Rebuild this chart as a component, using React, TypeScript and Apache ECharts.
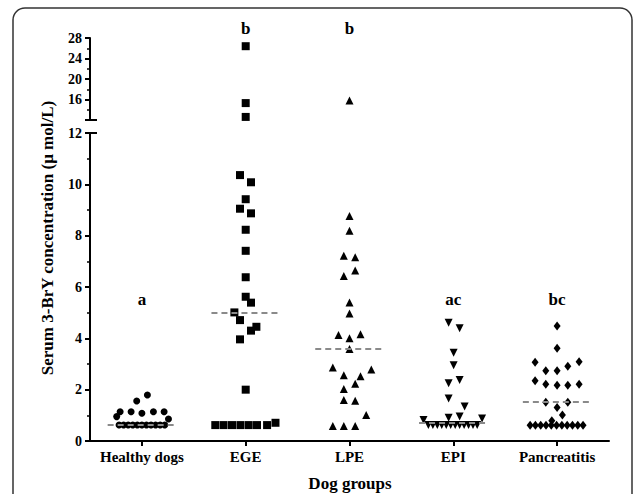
import React, { useEffect, useRef } from "react";
import * as echarts from "echarts";

const categories = ["Healthy dogs", "EGE", "LPE", "EPI", "Pancreatitis"];

// values (µmol/L) and horizontal offsets (in category widths)
const healthyY = [1.79, 1.56, 1.14, 1.14, 1.08, 1.14, 1.14, 0.95, 0.86, 0.62, 0.62, 0.62, 0.62, 0.62, 0.62, 0.62, 0.62, 0.62, 0.62, 0.62];
const healthyX = [0.053, -0.05, -0.21, -0.104, 0, 0.111, 0.214, -0.243, 0.256, -0.22, -0.176, -0.132, -0.088, -0.044, 0, 0.044, 0.088, 0.132, 0.176, 0.22];

const egeY = [26.4, 15.3, 12.6, 10.36, 10.08, 9.42, 9.05, 8.87, 8.23, 7.41, 6.38, 5.62, 5.39, 5.01, 4.71, 4.45, 4.3, 3.96, 2.0, 0.62, 0.62, 0.62, 0.62, 0.62, 0.62, 0.62, 0.71];
const egeX = [0, 0, 0, -0.055, 0.051, 0, -0.055, 0.051, 0, 0, 0, 0, 0.051, -0.109, -0.055, 0.103, 0.051, -0.055, 0, -0.293, -0.213, -0.132, -0.051, 0.029, 0.109, 0.206, 0.287];

const lpeY = [15.8, 8.77, 8.19, 7.22, 7.16, 6.64, 6.43, 5.4, 4.97, 4.13, 4.0, 4.16, 3.58, 2.86, 2.56, 2.52, 2.79, 2.23, 2.03, 1.6, 1.57, 1.01, 0.58, 0.58, 0.58];
const lpeX = [0, 0, 0, -0.055, 0.055, 0.055, -0.055, 0, 0, -0.106, 0, 0.106, 0, -0.161, -0.055, 0.106, 0.21, 0.055, -0.055, -0.055, 0.055, 0.161, -0.161, -0.055, 0.055];

const epiY = [4.61, 4.39, 3.44, 2.95, 2.25, 2.38, 1.66, 1.34, 0.91, 0.95, 0.82, 0.88, 0.62, 0.62, 0.62, 0.62, 0.62, 0.62, 0.62, 0.62, 0.62, 0.62, 0.62, 0.62];
const epiX = [-0.045, 0.061, 0.003, 0.003, -0.045, 0.061, -0.045, 0.109, -0.045, 0.061, -0.287, 0.277, -0.24, -0.197, -0.154, -0.111, -0.068, -0.025, 0.018, 0.061, 0.104, 0.147, 0.19, 0.23];

const pancY = [4.48, 3.61, 3.07, 3.09, 2.74, 2.74, 2.91, 2.35, 2.21, 2.17, 2.17, 2.21, 1.51, 1.51, 1.31, 1.01, 0.79, 0.61, 0.61, 0.61, 0.61, 0.61, 0.61, 0.61, 0.61, 0.61, 0.61, 0.61];
const pancX = [0, 0, -0.212, 0.212, -0.109, 0, 0.103, -0.212, -0.109, 0, 0.103, 0.212, -0.109, 0.103, 0, 0.051, -0.051, -0.26, -0.209, -0.158, -0.107, -0.056, -0.005, 0.046, 0.097, 0.148, 0.199, 0.25];

const medians = [0.64, 5.01, 3.58, 0.73, 1.51];
const letters = ["a", "b", "b", "ac", "bc"];
const letterY = [5.53, 28, 28, 5.53, 5.53];

const groupY = [healthyY, egeY, lpeY, epiY, pancY];
const groupX = [healthyX, egeX, lpeX, epiX, pancX];

const symbols = ["circle", "rect", "triangle", "triangle", "diamond"];
const symbolSizes: any[] = [7, 8, 8, 8, [7, 9]];
const symbolRotates = [0, 0, 0, 180, 0];

const BREAK = 12;
const MEDIAN_HALF = 0.33;
const FONT = "Liberation Serif";

export default function App() {
  const ref = useRef<HTMLDivElement>(null);
  useEffect(() => {
    document.body.style.margin = "0";
    const chart = echarts.init(ref.current!, undefined, { renderer: "svg" });
    const series: any[] = [];
    groupY.forEach((ys, i) => {
      const lower: number[][] = [];
      const upper: number[][] = [];
      ys.forEach((y, k) => {
        const p = [i + groupX[i][k], y];
        if (y > BREAK) upper.push(p);
        else lower.push(p);
      });
      const common = {
        type: "scatter",
        symbol: symbols[i],
        symbolSize: symbolSizes[i],
        symbolRotate: symbolRotates[i],
        itemStyle: { color: "#000", opacity: 1 },
        silent: true,
        clip: false,
      };
      series.push({
        ...common,
        xAxisIndex: 1,
        yAxisIndex: 1,
        data: lower,
        markLine: {
          silent: true,
          symbol: ["none", "none"],
          label: { show: false },
          lineStyle: { color: "#8a8a8a", type: [6, 4], width: 2 },
          data: [[{ coord: [i - MEDIAN_HALF, medians[i]] }, { coord: [i + MEDIAN_HALF, medians[i]] }]],
        },
      });
      if (upper.length) {
        series.push({ ...common, xAxisIndex: 2, yAxisIndex: 0, data: upper });
      }
    });
    // significance letters
    const lowLetters: any[] = [];
    const upLetters: any[] = [];
    letters.forEach((l, i) => {
      const item = { value: [i, letterY[i]], label: { formatter: l } };
      if (letterY[i] > BREAK) upLetters.push(item);
      else lowLetters.push(item);
    });
    const letterLabel = {
      show: true,
      color: "#000",
      opacity: 1,
      fontFamily: FONT,
      fontWeight: "bold",
      fontSize: 17,
    };
    const letterSeries = {
      type: "scatter",
      symbolSize: 0,
      clip: false,
      silent: true,
      itemStyle: { color: "#000", opacity: 1 },
    };
    series.push({
      ...letterSeries,
      xAxisIndex: 1,
      yAxisIndex: 1,
      label: { ...letterLabel, position: "inside" },
      data: lowLetters,
    });
    series.push({
      ...letterSeries,
      xAxisIndex: 2,
      yAxisIndex: 0,
      label: { ...letterLabel, position: "top", distance: 1 },
      data: upLetters,
    });

    const axisLine = { show: true, onZero: false, lineStyle: { color: "#000", width: 2 } };
    const axisTick = { show: true, length: 5, lineStyle: { color: "#000", width: 2 } };
    const minorTick = { show: true, splitNumber: 2, length: 3, lineStyle: { color: "#000", width: 1.5 } };
    const axisLabel = { color: "#000", fontFamily: FONT, fontWeight: "bold", fontSize: 14, margin: 8 };

    chart.setOption({
      animation: false,
      backgroundColor: "#fff",
      grid: [
        { left: 90, right: 25, top: 38, height: 82 },
        { left: 90, right: 25, top: 133, height: 308 },
      ],
      xAxis: [
        {
          type: "category",
          gridIndex: 1,
          data: categories,
          axisLine,
          axisTick: { ...axisTick, alignWithLabel: true },
          axisLabel: { ...axisLabel, fontSize: 15, margin: 8, interval: 0 },
        },
        { type: "value", gridIndex: 1, min: -0.5, max: 4.5, show: false },
        { type: "value", gridIndex: 0, min: -0.5, max: 4.5, show: false },
      ],
      yAxis: [
        {
          type: "value",
          gridIndex: 0,
          position: "left",
          min: 12,
          max: 28,
          interval: 4,
          axisLine,
          axisTick,
          minorTick,
          splitLine: { show: false },
          axisLabel: { ...axisLabel, formatter: (v: number) => (v === 12 ? "" : String(v)) },
        },
        {
          type: "value",
          gridIndex: 1,
          position: "left",
          min: 0,
          max: 12,
          interval: 2,
          axisLine,
          axisTick,
          minorTick,
          splitLine: { show: false },
          axisLabel,
        },
      ],
      graphic: [
        {
          type: "rect",
          shape: { x: 13, y: 8, width: 619, height: 530, r: 12 },
          style: { fill: "none", stroke: "#333", lineWidth: 1.5 },
          silent: true,
        },
        { type: "line", shape: { x1: 85, y1: 120, x2: 97, y2: 120 }, style: { stroke: "#000", lineWidth: 2 } },
        { type: "line", shape: { x1: 85, y1: 133, x2: 97, y2: 133 }, style: { stroke: "#000", lineWidth: 2 } },
        {
          type: "text",
          x: 47,
          y: 238,
          rotation: Math.PI / 2,
          style: {
            text: "Serum 3-BrY concentration (μ mol/L)",
            fill: "#000",
            font: "bold 17px 'Liberation Serif'",
            align: "center",
            verticalAlign: "middle",
          },
        },
        {
          type: "text",
          x: 350,
          y: 483,
          style: {
            text: "Dog groups",
            fill: "#000",
            font: "bold 17px 'Liberation Serif'",
            align: "center",
            verticalAlign: "middle",
          },
        },
      ],
      series,
    });
    return () => chart.dispose();
  }, []);
  return <div ref={ref} style={{ width: 634, height: 494 }} />;
}
